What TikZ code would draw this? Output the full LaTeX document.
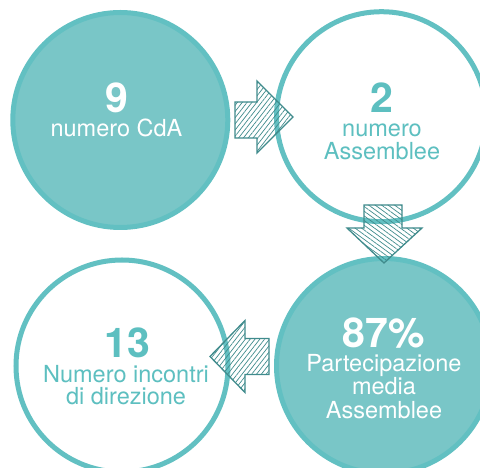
\documentclass[tikz,border=0pt]{standalone}
\usepackage{fontspec}
\setmainfont{TeX Gyre Heros}
\usetikzlibrary{patterns.meta}

\definecolor{tealfill}{HTML}{79C6C7}
\definecolor{tealedge}{HTML}{62C0C2}
\definecolor{tealtext}{HTML}{5DBFC0}
\definecolor{arrowink}{HTML}{3F8B8C}

\tikzset{
  solidring/.style={draw=tealedge, fill=tealfill, line width=5pt},
  openring/.style={draw=tealedge, fill=white, line width=5pt},
  bignum/.style={anchor=base, inner sep=0pt, font=\fontsize{41}{44}\selectfont\bfseries},
  caption/.style={anchor=base, inner sep=0pt, font=\fontsize{23.5}{26}\selectfont},
  onsolid/.style={text=white},
  onopen/.style={text=tealtext},
  blockarrow/.style={draw=arrowink, line width=1.3pt, line join=miter},
  hatchup/.style={pattern={Lines[angle=52, distance=3.8pt, line width=0.7pt]}, pattern color=arrowink},
  hatchdown/.style={pattern={Lines[angle=-36, distance=3.8pt, line width=0.7pt]}, pattern color=arrowink},
}

\begin{document}
\begin{tikzpicture}[x=1pt, y=1pt]
  \useasboundingbox (0,0) rectangle (480,468);
  \begin{scope}
    \clip (0,0) rectangle (480,468);

    % the four rings
    \node[circle, solidring, minimum size=215pt] (cda)   at (120.3,348) {};
    \node[circle, openring,  minimum size=210pt] (ass)   at (381.5,351.3) {};
    \node[circle, solidring, minimum size=215pt] (part)  at (384,102) {};
    \node[circle, openring,  minimum size=212pt] (dir)   at (122,102) {};

    % ring 1
    \node[bignum, onsolid]  (cdaN) at (116.5,355) {9};
    \node[caption, onsolid] (cdaT) at (116.5,331) {numero CdA};

    % ring 2
    \node[bignum, onopen]   (assN)  at (382,355) {2};
    \node[caption, onopen]  (assT1) at (382,331) {numero};
    \node[caption, onopen]  (assT2) at (382,308.5) {Assemblee};

    % ring 3
    \node[bignum, onsolid]  (partN)  at (384,120.7) {87\%};
    \node[caption, onsolid] (partT1) at (384,96) {Partecipazione};
    \node[caption, onsolid] (partT2) at (384,73) {media};
    \node[caption, onsolid] (partT3) at (384,49.5) {Assemblee};

    % ring 4
    \node[bignum, onopen]   (dirN)  at (127,110) {13};
    \node[caption, onopen]  (dirT1) at (126,85) {Numero incontri};
    \node[caption, onopen]  (dirT2) at (126,63) {di direzione};

    % hatched block arrows between the rings
    \draw[blockarrow, hatchup]
      (235,366) -- (257,366) -- (257,387) -- (293,351)
      -- (257,315) -- (257,330) -- (235,330) -- cycle;
    \draw[blockarrow, hatchdown]
      (364,263) -- (402,263) -- (402,240) -- (422,240)
      -- (384,205) -- (347,240) -- (364,240) -- cycle;
    \draw[blockarrow, hatchup]
      (269,129.5) -- (245,129.5) -- (245,147.5) -- (210,111.5)
      -- (245,75.5) -- (245,93.5) -- (269,93.5) -- cycle;
  \end{scope}
\end{tikzpicture}
\end{document}
